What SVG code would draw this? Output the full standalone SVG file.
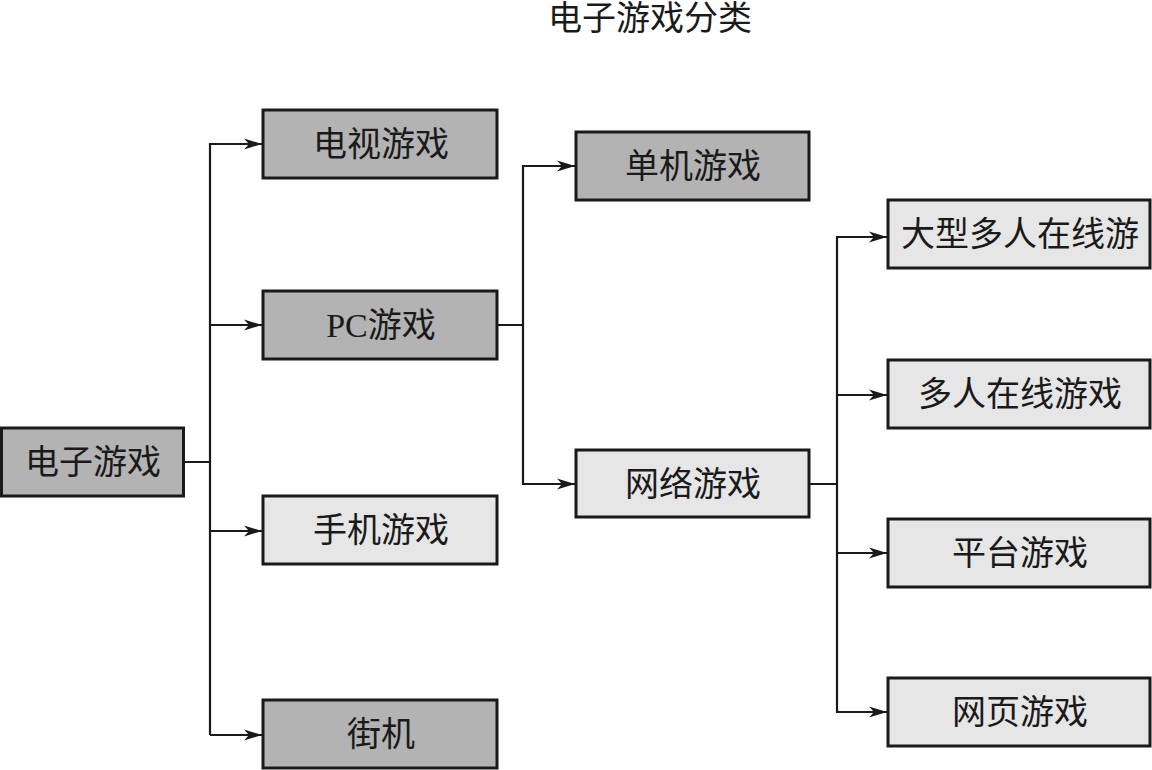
<svg xmlns="http://www.w3.org/2000/svg" width="1152" height="770" viewBox="0 0 1152 770">
<style>
.box{stroke:#1a1a1a;stroke-width:3}
.dark{fill:#b3b3b3}
.light{fill:#e6e6e6}
.t{font-family:"Liberation Serif","Noto Sans CJK SC",serif;font-size:34px;fill:#1a1a1a;text-anchor:middle}
.c{fill:none;stroke:#1a1a1a;stroke-width:2.2}
</style>
<defs>
<marker id="ah" markerUnits="userSpaceOnUse" markerWidth="20" markerHeight="14" refX="18" refY="7" orient="auto">
<path d="M0,1.5 L18,7 L0,12.5 L5,7 z" fill="#1a1a1a"/>
</marker>
</defs>
<rect width="1152" height="770" fill="#ffffff"/>
<text class="t" x="650" y="30">电子游戏分类</text>
<g id="connectors">
<path class="c" d="M184,462 H210 M210,143 V735"/>
<path class="c" d="M210,144 H262" marker-end="url(#ah)"/>
<path class="c" d="M210,325 H262" marker-end="url(#ah)"/>
<path class="c" d="M210,531 H262" marker-end="url(#ah)"/>
<path class="c" d="M210,735 H262" marker-end="url(#ah)"/>
<path class="c" d="M497,325 H523 M523,165 V485"/>
<path class="c" d="M523,166 H575" marker-end="url(#ah)"/>
<path class="c" d="M523,484 H575" marker-end="url(#ah)"/>
<path class="c" d="M809,484 H837 M837,236 V713"/>
<path class="c" d="M837,237 H887" marker-end="url(#ah)"/>
<path class="c" d="M837,395 H887" marker-end="url(#ah)"/>
<path class="c" d="M837,553 H887" marker-end="url(#ah)"/>
<path class="c" d="M837,712 H887" marker-end="url(#ah)"/>
</g>
<g id="n_root"><rect class="box dark" x="1.5" y="428" width="182" height="68"/><text class="t" x="93" y="474">电子游戏</text></g>
<g id="n_tv"><rect class="box dark" x="263" y="110" width="234" height="68"/><text class="t" x="381" y="156">电视游戏</text></g>
<g id="n_pc"><rect class="box dark" x="263" y="291" width="234" height="68"/><text class="t" x="381" y="337">PC游戏</text></g>
<g id="n_mobile"><rect class="box light" x="263" y="496" width="234" height="68"/><text class="t" x="381" y="542">手机游戏</text></g>
<g id="n_arcade"><rect class="box dark" x="263" y="700" width="234" height="68"/><text class="t" x="381" y="746">街机</text></g>
<g id="n_single"><rect class="box dark" x="576" y="132" width="233" height="68"/><text class="t" x="693" y="178">单机游戏</text></g>
<g id="n_online"><rect class="box light" x="576" y="450" width="233" height="67"/><text class="t" x="693" y="496">网络游戏</text></g>
<g id="n_mmo"><rect class="box light" x="888" y="200" width="262" height="68"/><text class="t" x="1020" y="246">大型多人在线游</text></g>
<g id="n_multi"><rect class="box light" x="888" y="360" width="262" height="68"/><text class="t" x="1020" y="406">多人在线游戏</text></g>
<g id="n_platform"><rect class="box light" x="888" y="519" width="262" height="68"/><text class="t" x="1020" y="565">平台游戏</text></g>
<g id="n_web"><rect class="box light" x="888" y="678" width="262" height="68"/><text class="t" x="1020" y="724">网页游戏</text></g>
</svg>
